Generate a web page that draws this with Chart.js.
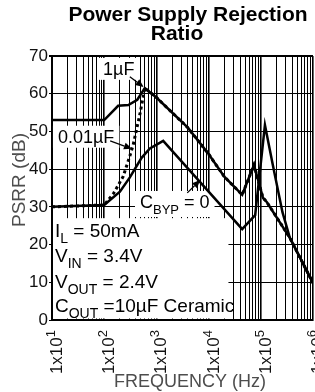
<!DOCTYPE html>
<html>
<head>
<meta charset="utf-8">
<script src="https://cdn.jsdelivr.net/npm/chart.js@4.4.0/dist/chart.umd.min.js"></script>
<style>
  html, body { margin: 0; padding: 0; background: #fff; }
  #wrap { width: 315px; height: 392px; }
</style>
</head>
<body>
<div id="wrap"><canvas id="psrr"></canvas></div>
<script>
// PSRR curves (Hz, dB)
const freq1uF = [10, 100, 185, 290, 430, 600, 1000, 4000, 10000, 20000, 44000, 74000, 110000, 130000, 360000, 1000000];
const psrr1uF = [53, 53, 56.8, 57, 58.4, 61.5, 59, 51, 44, 38, 33.2, 41.1, 32.4, 31.3, 21.8, 9.8];

const freq001uF = [10, 100, 150, 230, 310, 360, 490, 600, 1000, 4000, 10000, 20000, 44000, 74000, 110000, 130000, 360000, 1000000];
const psrr001uF = [30, 30.5, 33.5, 38, 43.5, 46.5, 55, 61.5, 59, 51, 44, 38, 33.2, 41.1, 32.4, 31.3, 21.8, 9.8];

const freqNoByp = [10, 100, 200, 310, 520, 750, 1350, 44000, 78000, 120000, 170000, 260000, 360000, 1000000];
const psrrNoByp = [30, 30.5, 34, 37.8, 43, 45.5, 47.5, 24.1, 27.8, 51.7, 41.1, 28.6, 21.8, 9.8];

// axes
const decades = [10, 100, 1000, 10000, 100000, 1000000];
const minorSteps = [2, 3, 4, 5, 6, 7, 8, 9];
const yMin = 0;
const yMax = 70;
const yStep = 5;

const chartTitle = ['Power Supply Rejection', 'Ratio'];
const yTitle = 'PSRR (dB)';
const xTitle = 'FREQUENCY (Hz)';

const conditions = [
  [['I', 0], ['L', 1], [' = 50mA', 0]],
  [['V', 0], ['IN', 1], [' = 3.4V', 0]],
  [['V', 0], ['OUT', 1], [' = 2.4V', 0]],
  [['C', 0], ['OUT', 1], [' =10µF Ceramic', 0]],
];

const FONT = '"Liberation Sans", Arial, sans-serif';

const toPoints = (xs, ys) => xs.map((x, i) => ({ x, y: ys[i] }));

const xGrid = [];
decades.slice(0, -1).forEach((d) => {
  xGrid.push(d);
  minorSteps.forEach((m) => xGrid.push(d * m));
});
xGrid.push(decades[decades.length - 1]);

function richWidth(ctx, parts, size, subSize) {
  let w = 0;
  parts.forEach(([t, sub]) => {
    ctx.font = `${sub ? subSize : size}px ${FONT}`;
    w += ctx.measureText(t).width;
  });
  return w;
}

function drawRich(ctx, x, y, parts, size, subSize) {
  let cx = x;
  parts.forEach(([t, sub]) => {
    ctx.font = `${sub ? subSize : size}px ${FONT}`;
    ctx.fillText(t, cx, sub ? y + 6 : y);
    cx += ctx.measureText(t).width;
  });
}

function drawArrow(ctx, x1, y1, x2, y2) {
  const a = Math.atan2(y2 - y1, x2 - x1);
  const len = 8;
  ctx.beginPath();
  ctx.moveTo(x1, y1);
  ctx.lineTo(x2 - len * Math.cos(a), y2 - len * Math.sin(a));
  ctx.lineWidth = 1.3;
  ctx.stroke();
  ctx.beginPath();
  ctx.moveTo(x2, y2);
  ctx.lineTo(x2 - len * Math.cos(a) + 3.5 * Math.sin(a), y2 - len * Math.sin(a) - 3.5 * Math.cos(a));
  ctx.lineTo(x2 - len * Math.cos(a) - 3.5 * Math.sin(a), y2 - len * Math.sin(a) + 3.5 * Math.cos(a));
  ctx.closePath();
  ctx.fill();
}

// labels on the plot, placed in (Hz, dB)
const notes = [
  { parts: [['1µF', 0]], at: [95, 65], from: [310, 64.5], to: [570, 61.8] },
  { parts: [['0.01µF', 0]], at: [13, 47], from: [130, 47.5], to: [340, 45.4] },
  { parts: [['C', 0], ['BYP', 1], [' = 0', 0]], at: [485, 29.7], from: [3900, 33.7], to: [6900, 37.1] },
];

const overlay = {
  id: 'overlay',
  beforeDatasetsDraw(chart) {
    const { ctx, chartArea } = chart;
    const x = chart.scales.x;
    const y = chart.scales.y;
    ctx.save();
    ctx.fillStyle = '#fff';
    // box behind test conditions
    const bx = chartArea.left + 1;
    const by = y.getPixelForValue(27);
    ctx.fillRect(bx, by, x.getPixelForValue(24000) - bx, y.getPixelForValue(0.4) - by);
    // boxes behind the curve labels
    notes.forEach((n) => {
      const tx = x.getPixelForValue(n.at[0]);
      const ty = y.getPixelForValue(n.at[1]);
      const w = richWidth(ctx, n.parts, 18, 13);
      ctx.fillRect(tx - 5, ty - 17, w + 10, 22 + (n.parts.length > 1 ? 4 : 0));
    });
    ctx.restore();
  },
  afterDatasetsDraw(chart) {
    const { ctx, chartArea } = chart;
    const x = chart.scales.x;
    const y = chart.scales.y;
    ctx.save();
    ctx.fillStyle = '#000';
    ctx.strokeStyle = '#000';
    ctx.textBaseline = 'alphabetic';
    notes.forEach((n) => {
      drawRich(ctx, x.getPixelForValue(n.at[0]), y.getPixelForValue(n.at[1]), n.parts, 18, 13);
      drawArrow(ctx, x.getPixelForValue(n.from[0]), y.getPixelForValue(n.from[1]),
        x.getPixelForValue(n.to[0]), y.getPixelForValue(n.to[1]));
    });
    const lines = [22, 15.3, 8.5, 2.1];
    conditions.forEach((parts, i) => {
      drawRich(ctx, chartArea.left + 3, y.getPixelForValue(lines[i]), parts, 19, 14);
    });
    ctx.restore();
  },
  afterDraw(chart) {
    const { ctx, chartArea } = chart;
    const x = chart.scales.x;
    ctx.save();
    ctx.fillStyle = '#111';
    // rotated decade labels 1x10^n
    decades.forEach((d) => {
      const exp = String(Math.round(Math.log10(d)));
      ctx.font = `17px ${FONT}`;
      const wMain = ctx.measureText('1x10').width;
      ctx.font = `13px ${FONT}`;
      const wSup = ctx.measureText(exp).width;
      ctx.save();
      ctx.translate(x.getPixelForValue(d) + 10, chartArea.bottom + 10);
      ctx.rotate(-Math.PI / 2);
      ctx.font = `17px ${FONT}`;
      ctx.fillText('1x10', -(wMain + wSup), 0);
      ctx.font = `13px ${FONT}`;
      ctx.fillText(exp, -wSup, -7);
      ctx.restore();
    });
    // axis titles
    ctx.fillStyle = '#4d4d4d';
    ctx.font = `18px ${FONT}`;
    ctx.textAlign = 'center';
    ctx.fillText(xTitle, 190, 387);
    ctx.save();
    ctx.translate(25, 180);
    ctx.rotate(-Math.PI / 2);
    ctx.font = `19px ${FONT}`;
    ctx.fillText(yTitle, 0, 0);
    ctx.restore();
    // title
    ctx.fillStyle = '#000';
    ctx.font = `bold 21px ${FONT}`;
    ctx.fillText(chartTitle[0], 188, 21);
    ctx.fillText(chartTitle[1], 177, 40);
    ctx.restore();
  },
};

new Chart(document.getElementById('psrr'), {
  type: 'scatter',
  data: {
    datasets: [
      {
        label: '1µF',
        data: toPoints(freq1uF, psrr1uF),
        borderColor: '#000',
        borderWidth: 2.5,
        showLine: true,
        pointRadius: 0,
      },
      {
        label: 'CBYP = 0',
        data: toPoints(freqNoByp, psrrNoByp),
        borderColor: '#000',
        borderWidth: 2.5,
        showLine: true,
        pointRadius: 0,
      },
      {
        label: '0.01µF',
        data: toPoints(freq001uF, psrr001uF),
        borderColor: '#000',
        borderWidth: 3,
        borderDash: [3, 3],
        showLine: true,
        pointRadius: 0,
      },
    ],
  },
  options: {
    responsive: true,
    maintainAspectRatio: false,
    animation: false,
    devicePixelRatio: 1,
    layout: { padding: { top: 56, right: 2, left: 0, bottom: 0 } },
    plugins: {
      legend: { display: false },
      title: { display: false },
      tooltip: { enabled: false },
    },
    scales: {
      x: {
        type: 'logarithmic',
        min: decades[0],
        max: decades[decades.length - 1],
        afterBuildTicks: (s) => {
          s.ticks = xGrid.map((v) => ({ value: v }));
        },
        afterFit: (s) => {
          s.height = 72;
        },
        ticks: { display: false },
        grid: {
          color: '#000',
          drawTicks: false,
          lineWidth: (c) => (c.tick && decades.includes(c.tick.value) ? 1.6 : 1),
        },
        border: { color: '#000', width: 2 },
      },
      y: {
        min: yMin,
        max: yMax,
        afterFit: (s) => {
          s.width = 52;
        },
        ticks: {
          stepSize: yStep,
          padding: 1,
          color: '#111',
          font: { family: FONT, size: 17 },
          callback: (v) => (v % 10 === 0 ? v : ''),
        },
        grid: {
          color: '#000',
          tickLength: 3,
          lineWidth: (c) => (c.tick && c.tick.value === yMax ? 2 : 1),
        },
        border: { color: '#000', width: 2 },
      },
    },
  },
  plugins: [overlay],
});
</script>
</body>
</html>
